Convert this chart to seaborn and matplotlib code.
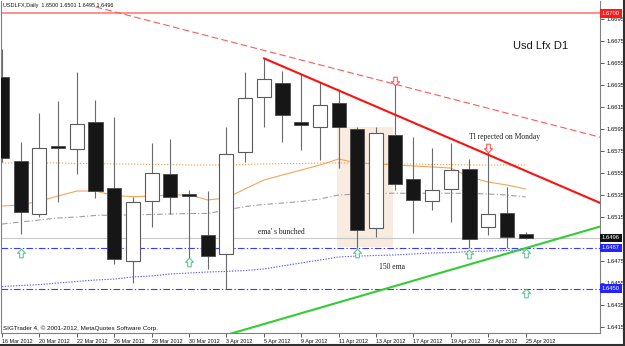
import numpy as np
import pandas as pd
import seaborn as sns
import matplotlib
matplotlib.use("Agg")
import matplotlib.pyplot as plt
import matplotlib.transforms as mtransforms
from matplotlib.patches import Rectangle
from matplotlib.lines import Line2D
from matplotlib.path import Path

# ---------------- data ----------------
dates = ["16 Mar 2012", "19 Mar 2012", "20 Mar 2012", "21 Mar 2012", "22 Mar 2012", "23 Mar 2012",
         "26 Mar 2012", "27 Mar 2012", "28 Mar 2012", "29 Mar 2012", "30 Mar 2012",
         "2 Apr 2012", "3 Apr 2012", "4 Apr 2012", "5 Apr 2012", "6 Apr 2012",
         "9 Apr 2012", "10 Apr 2012", "11 Apr 2012", "12 Apr 2012", "13 Apr 2012",
         "16 Apr 2012", "17 Apr 2012", "18 Apr 2012", "19 Apr 2012", "20 Apr 2012",
         "23 Apr 2012", "24 Apr 2012", "25 Apr 2012"]
opens = [1.66425, 1.65659, 1.65175, 1.65796, 1.65766, 1.66011, 1.65411, 1.64753, 1.65293, 1.65538,
         1.65359, 1.64986, 1.64814, 1.65738, 1.66238, 1.66371, 1.66016, 1.65971, 1.66184, 1.65947,
         1.65047, 1.65896, 1.65496, 1.65296, 1.65405, 1.65586, 1.65062, 1.65184, 1.6500]
highs = [1.6668, 1.65832, 1.66093, 1.66205, 1.66471, 1.66214, 1.66056, 1.65329, 1.6582, 1.65856,
         1.65396, 1.65386, 1.65971, 1.66471, 1.66593, 1.6648, 1.6645, 1.6638, 1.66311, 1.65966,
         1.65966, 1.6635, 1.65875, 1.65775, 1.6582, 1.65677, 1.65744, 1.6542, 1.6501]
lows = [1.6565, 1.64996, 1.65147, 1.65289, 1.65538, 1.65326, 1.64723, 1.64553, 1.65056, 1.65177,
        1.64775, 1.64675, 1.64493, 1.65653, 1.65966, 1.65835, 1.65759, 1.65668, 1.65593, 1.64866,
        1.64971, 1.65396, 1.65002, 1.65214, 1.65107, 1.64866, 1.64986, 1.64866, 1.6495]
closes = [1.65684, 1.65196, 1.65775, 1.65777, 1.65993, 1.65386, 1.64766, 1.65284, 1.65547, 1.65335,
          1.65344, 1.64798, 1.6572, 1.66229, 1.66402, 1.66077, 1.65986, 1.66168, 1.65966, 1.65032,
          1.65911, 1.6545, 1.65305, 1.65396, 1.65577, 1.6495, 1.65175, 1.64966, 1.6496]

ema_orange = [1.6525, 1.65259, 1.65295, 1.65341, 1.65386, 1.65386, 1.65345, 1.65335, 1.65341, 1.6535,
              1.6535, 1.65305, 1.65323, 1.65405, 1.65486, 1.65532, 1.65577, 1.65623, 1.65677, 1.65641,
              1.65632, 1.65623, 1.65614, 1.65605, 1.65595, 1.65514, 1.65468, 1.65441, 1.65405]
ema_orange_dot = [1.65641, 1.65641, 1.65641, 1.65641, 1.65636, 1.65636, 1.65632, 1.65632, 1.65627, 1.65627,
                  1.65623, 1.65623, 1.65623, 1.65627, 1.65632, 1.65636, 1.65636, 1.65641, 1.65641, 1.65641,
                  1.65636, 1.65632, 1.65632, 1.65627, 1.65627, 1.65623, 1.65623, 1.65623, 1.65623]
ema_grey = [1.65086, 1.65105, 1.65123, 1.65141, 1.6515, 1.65164, 1.65168, 1.65168, 1.65173, 1.65177,
            1.65182, 1.65182, 1.65214, 1.65245, 1.65264, 1.65277, 1.65291, 1.65314, 1.6535, 1.65359,
            1.65364, 1.65366, 1.65366, 1.65366, 1.65366, 1.65364, 1.65359, 1.6535, 1.65332]
ema_150 = [1.64518, 1.64527, 1.64536, 1.6455, 1.64564, 1.64577, 1.64586, 1.64605, 1.64614, 1.64632,
           1.64641, 1.6465, 1.64655, 1.64664, 1.64677, 1.64705, 1.64732, 1.64759, 1.64786, 1.64795,
           1.648, 1.64805, 1.64814, 1.64823, 1.64827, 1.64836, 1.64841, 1.64845, 1.6485]

red_dash_x = [5.0, 32.0]
red_dash_y = [1.6706, 1.65875]
red_solid_x = [14.0, 32.0]
red_solid_y = [1.66593, 1.65277]
green_x = [12.0, 32.0]
green_y = [1.64078, 1.65064]

up_arrow_idx = [1, 10, 19, 25, 28, 28]
up_arrow_price = [1.64823, 1.64741, 1.64823, 1.64814, 1.64823, 1.64462]
down_arrow_idx = [21, 26]
down_arrow_price = [1.66389, 1.65777]

price_ticks = [1.6415, 1.6435, 1.6455, 1.6475, 1.6495, 1.6515, 1.6535, 1.6555,
               1.6575, 1.6595, 1.6615, 1.6635, 1.6655, 1.6675, 1.6695]
level_top = 1.6700
level_current = 1.6496
level_blue1 = 1.6487
level_blue2 = 1.6450

# ---------------- figure ----------------
sns.set_style("white")
plt.rcParams["font.family"] = ["Liberation Sans", "DejaVu Sans"]

fig = plt.figure(figsize=(6.25, 3.46), dpi=100)
fig.patch.set_facecolor("white")
ax = fig.add_axes([1 / 625, 13 / 346, 599 / 625, 332 / 346])
ax.set_facecolor("white")

n = len(dates)
idx = np.arange(n)
df = pd.DataFrame({"idx": idx, "open": opens, "high": highs, "low": lows, "close": closes,
                   "ema_orange": ema_orange, "ema_orange_dot": ema_orange_dot,
                   "ema_grey": ema_grey, "ema_150": ema_150})

# shaded zone
ax.add_patch(Rectangle((17.9, 1.64877), 3.0, 1.65968 - 1.64877, facecolor="#f8ebdf",
                       edgecolor="none", zorder=0.5))

# horizontal levels
ax.axhline(level_top, color="#ff7070", lw=1.1, zorder=1)
ax.axhline(level_current, color="#c8c8c8", lw=0.8, zorder=1)
for lv in (level_blue1, level_blue2):
    l = ax.axhline(lv, color="#3a3aff", lw=0.8, zorder=1)
    l.set_dashes([6, 2, 1.2, 2])

# EMA lines via seaborn
sns.lineplot(data=df, x="idx", y="ema_orange", ax=ax, color="#f5a55a", lw=0.8, zorder=1.5)
sns.lineplot(data=df, x="idx", y="ema_orange_dot", ax=ax, color="#f5a55a", lw=0.8, zorder=1.5)
ax.lines[-1].set_dashes([1.2, 1.5])
sns.lineplot(data=df, x="idx", y="ema_grey", ax=ax, color="#a0a0a0", lw=0.8, zorder=1.5)
ax.lines[-1].set_dashes([5, 2, 1, 2])
sns.lineplot(data=df, x="idx", y="ema_150", ax=ax, color="#5a5aff", lw=0.8, zorder=1.5)
ax.lines[-1].set_dashes([1.2, 1.3])

# candles
bull = df["close"] >= df["open"]
body_lo = np.minimum(df["open"], df["close"])
body_h = np.maximum(np.abs(df["close"] - df["open"]), 0.00012)
ax.vlines(idx, df["low"], df["high"], color="#6a6a6a", lw=0.8, zorder=2)
ax.bar(idx[bull], body_h[bull], bottom=body_lo[bull], width=0.75,
       facecolor="white", edgecolor="#5a5a5a", lw=0.8, zorder=3)
ax.bar(idx[~bull], body_h[~bull], bottom=body_lo[~bull], width=0.75,
       facecolor="#161616", edgecolor="#4a4a4a", lw=0.6, zorder=3)

# trend lines
sns.lineplot(x=red_dash_x, y=red_dash_y, ax=ax, color="#ff5a5a", lw=0.8, zorder=4)
ax.lines[-1].set_dashes([6, 3])
sns.lineplot(x=red_solid_x, y=red_solid_y, ax=ax, color="#ff1010", lw=1.5, zorder=4)
sns.lineplot(x=green_x, y=green_y, ax=ax, color="#33cc33", lw=1.5, zorder=4)

# hollow arrows (MT4 style)
up_verts = [(0, 1), (-0.95, 0.05), (-0.42, 0.05), (-0.42, -1), (0.42, -1), (0.42, 0.05),
            (0.95, 0.05), (0, 1)]
up_marker = Path(up_verts, [Path.MOVETO] + [Path.LINETO] * 6 + [Path.CLOSEPOLY])
down_marker = Path([(x, -y) for x, y in up_verts], [Path.MOVETO] + [Path.LINETO] * 6 + [Path.CLOSEPOLY])
ax.scatter(up_arrow_idx, up_arrow_price, marker=up_marker, s=38, facecolor="white",
           edgecolor="#5cc890", linewidths=0.8, zorder=5)
ax.scatter(down_arrow_idx, down_arrow_price, marker=down_marker, s=38, facecolor="white",
           edgecolor="#ff5a5a", linewidths=0.8, zorder=5)

# annotations
serif = ["Liberation Serif", "DejaVu Serif"]
ax.text(14.92, 1.65014, "ema' s bunched", family=serif, fontsize=5.5, color="#202020",
        ha="center", va="center", zorder=6)
ax.text(20.88, 1.64695, "150 ema", family=serif, fontsize=5.5, color="#202020",
        ha="center", va="center", zorder=6)
ax.text(26.87, 1.65877, "Tl repected on Monday", family=serif, fontsize=5.5, color="#202020",
        ha="center", va="center", zorder=6)
ax.text(28.82, 1.66705, "Usd Lfx D1", fontsize=8, color="#1a1a1a", ha="center", va="center", zorder=6)

# axes limits / ticks
ax.set_xlim(-0.0535, 31.979)
ax.set_ylim(1.640955, 1.671136)
ax.set_xlabel("")
ax.set_ylabel("")

ax.set_xticks(idx[::2])
ax.set_xticklabels(dates[::2], fontsize=3.9, ha="left")
ax.yaxis.tick_right()
ax.set_yticks(price_ticks)
# the 1.6495 label is hidden under the current-price box in the reference
ax.set_yticklabels(["" if abs(v - level_current) < 0.0002 else f"{v:.4f}" for v in price_ticks],
                   fontsize=4.2)
ax.tick_params(axis="x", direction="out", length=3, width=0.6, color="#404040", pad=1.2,
               bottom=True, labelcolor="#111111")
ax.tick_params(axis="y", direction="out", length=3, width=0.6, color="#404040", pad=1.5,
               right=True, left=False, labelcolor="#111111")
for s in ("left", "bottom", "right"):
    ax.spines[s].set_color("#808080")
    ax.spines[s].set_linewidth(0.8)
    ax.spines[s].set_visible(True)
ax.spines["top"].set_visible(False)

# price boxes on right axis
trans = mtransforms.blended_transform_factory(ax.transAxes, ax.transData)
for lv, fc in ((level_top, "#ff1a1a"), (level_current, "#111111"),
               (level_blue1, "#2323ff"), (level_blue2, "#2323ff")):
    ax.text(1.003, lv, f"{lv:.4f}", transform=trans, fontsize=4.2, color="white",
            ha="left", va="center", zorder=7, clip_on=False,
            bbox=dict(boxstyle="square,pad=0.3", facecolor=fc, edgecolor="none"))

# header / footer texts
fig.text(3 / 625, 1 - 6 / 346, "USDLFX,Daily  1.6500 1.6501 1.6495 1.6496", fontsize=4.0,
         color="#111111", ha="left", va="center")
fig.text(3 / 625, 1 - 328 / 346, "SIGTrader 4, \u00a9 2001-2012, MetaQuotes Software Corp.",
         fontsize=4.5, color="#111111", ha="left", va="center")

# window frame edges
fig.add_artist(Line2D([0, 1], [0.7 / 346, 0.7 / 346], transform=fig.transFigure,
                      color="#303030", lw=1.5))
fig.add_artist(Line2D([1 - 0.7 / 625, 1 - 0.7 / 625], [0, 1], transform=fig.transFigure,
                      color="#303030", lw=1.5))

fig.savefig("out.png", dpi=100, facecolor="white")
